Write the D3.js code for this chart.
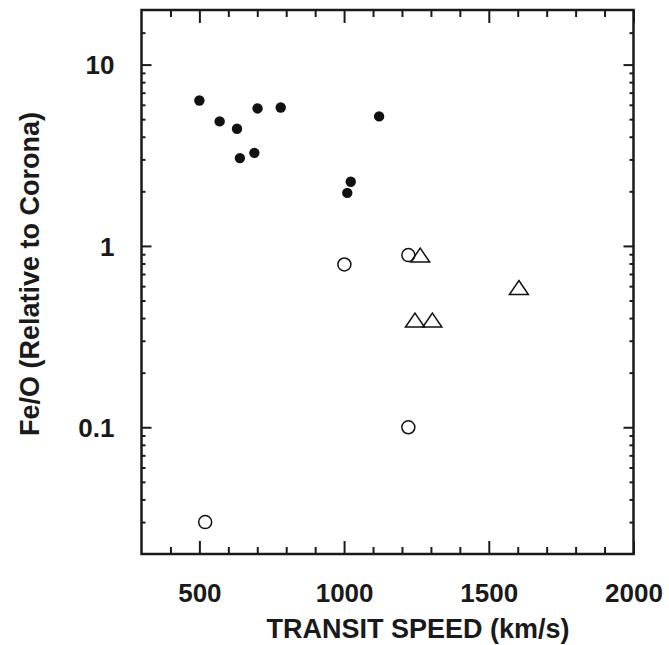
<!DOCTYPE html>
<html>
<head>
<meta charset="utf-8">
<script src="https://cdn.jsdelivr.net/npm/d3@7"></script>
<style>
	body { margin: 0; background: #fff; }
	svg { display: block; }
	.axis text { font-family: "Liberation Sans", Arial, sans-serif; font-weight: bold; font-size: 26px; fill: #1a1a1a; }
	.axis path { display: none; }
	.axis line { stroke: #1a1a1a; stroke-width: 2px; }
	.title { font-family: "Liberation Sans", Arial, sans-serif; font-weight: bold; font-size: 27px; fill: #1a1a1a; }
</style>
</head>
<body>
<div class="container"></div>
<script>

// filled circles
var filledSpeed = [500, 570, 630, 640, 690, 701, 781, 1121, 1023, 1011];
var filledFeO   = [6.34, 4.86, 4.43, 3.05, 3.26, 5.73, 5.8, 5.18, 2.26, 1.96];

// open circles
var openSpeed = [520, 1001, 1222, 1222];
var openFeO   = [0.03, 0.79, 0.89, 0.1];

// open triangles
var triSpeed = [1263, 1604, 1245, 1305];
var triFeO   = [0.89, 0.59, 0.39, 0.39];

var xMajor = [500, 1000, 1500, 2000];
var xMinor = [400, 600, 700, 800, 900, 1100, 1200, 1300, 1400, 1600, 1700, 1800, 1900];
var yMajor = [0.1, 1, 10];
var yMajorLabels = ["0.1", "1", "10"];
var yExtra = [15];

var W = 669, H = 645;
var pLeft = 141.5, pRight = 633.5, pTop = 10, pBottom = 554;

var x = d3.scaleLinear().domain([300, 2000]).range([pLeft, pRight]);
var y = d3.scaleLog().domain([0.02, 20]).range([pBottom, pTop]);

var yMinor = y.ticks().filter(function (v) {
	return yMajor.indexOf(v) < 0 && v > 0.02 && v < 20;
}).concat(yExtra);

function makeStage(w, h) {
	return d3.select(".container")
			 .append("svg")
			 .attr("width", w)
			 .attr("height", h);
}

var stage = makeStage(W, H);

// ticks, all pointing inward
function addAxis(axis, tr) {
	return stage.append("g")
				.attr("class", "axis")
				.attr("transform", tr)
				.call(axis);
}

var xLab = addAxis(d3.axisBottom(x).tickValues(xMajor).tickSize(-13).tickPadding(30).tickFormat(d3.format("d")),
				   "translate(0," + pBottom + ")");
xLab.selectAll("text").attr("dy", "0.71em");
addAxis(d3.axisBottom(x).tickValues(xMinor).tickSize(-7).tickFormat(""), "translate(0," + pBottom + ")");
addAxis(d3.axisTop(x).tickValues(xMajor).tickSize(-13).tickFormat(""), "translate(0," + pTop + ")");
addAxis(d3.axisTop(x).tickValues(xMinor).tickSize(-7).tickFormat(""), "translate(0," + pTop + ")");

var yLab = addAxis(d3.axisLeft(y).tickValues(yMajor).tickSize(-10).tickPadding(27)
					 .tickFormat(function (d, i) { return yMajorLabels[i]; }), "translate(" + pLeft + ",0)");
yLab.selectAll("text").attr("dy", "0.36em");
addAxis(d3.axisLeft(y).tickValues(yMinor).tickSize(-4).tickFormat(""), "translate(" + pLeft + ",0)");
addAxis(d3.axisRight(y).tickValues(yMajor).tickSize(-10).tickFormat(""), "translate(" + pRight + ",0)");
addAxis(d3.axisRight(y).tickValues(yMinor).tickSize(-4).tickFormat(""), "translate(" + pRight + ",0)");

// frame
stage.append("rect")
	 .attr("x", pLeft)
	 .attr("y", pTop)
	 .attr("width", pRight - pLeft)
	 .attr("height", pBottom - pTop)
	 .style("fill", "none")
	 .style("stroke", "#1a1a1a")
	 .style("stroke-width", "2.5px");

// axis titles
stage.append("text")
	 .attr("class", "title")
	 .attr("x", 418)
	 .attr("y", 638)
	 .attr("text-anchor", "middle")
	 .text("TRANSIT SPEED (km/s)");

stage.append("text")
	 .attr("class", "title")
	 .attr("transform", "translate(39,274) rotate(-90)")
	 .attr("text-anchor", "middle")
	 .text("Fe/O (Relative to Corona)");

// markers
stage.selectAll("circle.filled")
	 .data(d3.range(filledSpeed.length))
	 .enter().append("circle")
	 .attr("class", "filled")
	 .attr("cx", function (i) { return x(filledSpeed[i]); })
	 .attr("cy", function (i) { return y(filledFeO[i]); })
	 .attr("r", 5.2)
	 .style("fill", "#111");

stage.selectAll("circle.open")
	 .data(d3.range(openSpeed.length))
	 .enter().append("circle")
	 .attr("class", "open")
	 .attr("cx", function (i) { return x(openSpeed[i]); })
	 .attr("cy", function (i) { return y(openFeO[i]); })
	 .attr("r", 6.5)
	 .style("fill", "none")
	 .style("stroke", "#111")
	 .style("stroke-width", "1.5px");

function triPath(cx, cy) {
	return "M" + cx + "," + (cy - 7) + "L" + (cx + 9.5) + "," + (cy + 7) + "L" + (cx - 9.5) + "," + (cy + 7) + "Z";
}

stage.selectAll("path.tri")
	 .data(d3.range(triSpeed.length))
	 .enter().append("path")
	 .attr("class", "tri")
	 .attr("d", function (i) { return triPath(x(triSpeed[i]), y(triFeO[i])); })
	 .style("fill", "none")
	 .style("stroke", "#111")
	 .style("stroke-width", "1.5px");

</script>
</body>
</html>
